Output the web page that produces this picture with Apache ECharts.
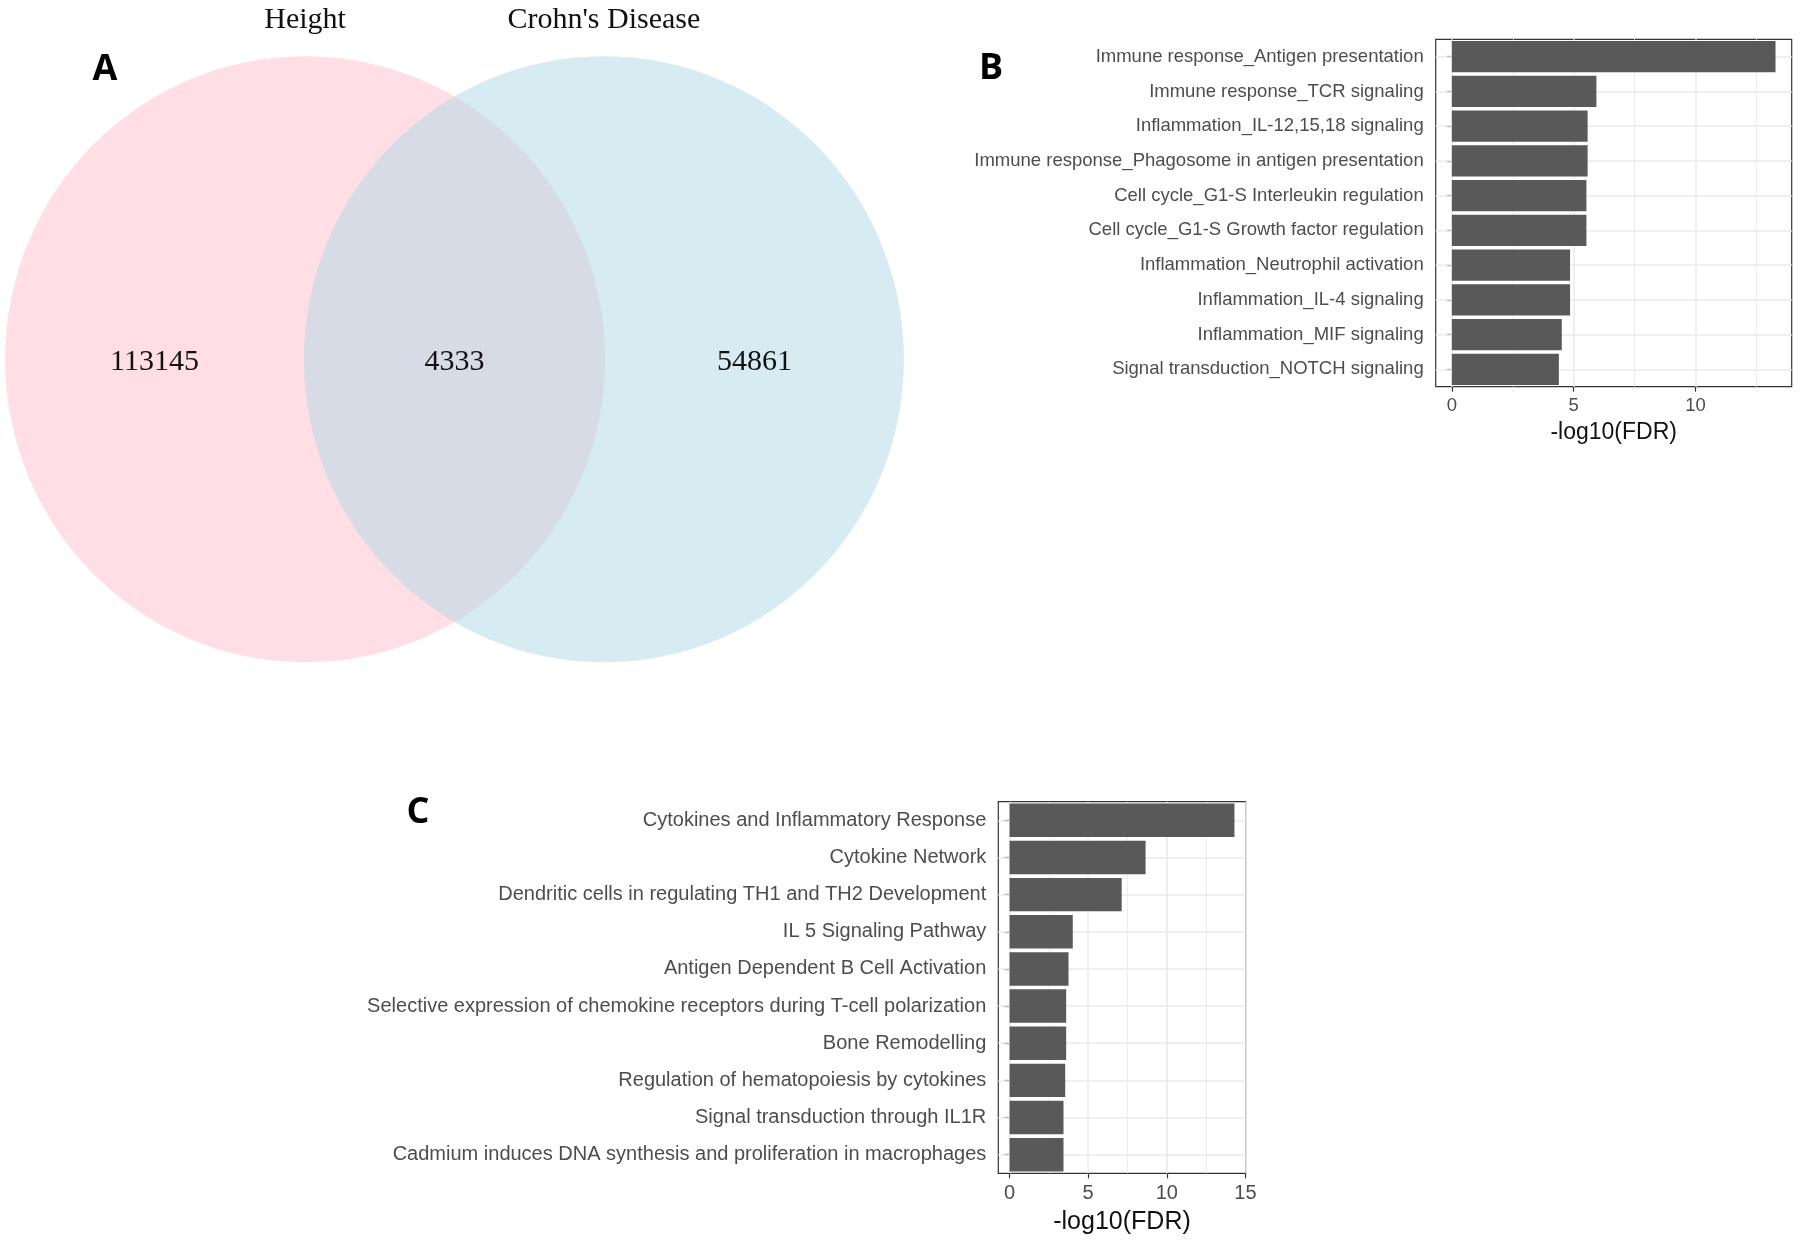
<!DOCTYPE html>
<html>
<head>
<meta charset="utf-8">
<script src="https://cdn.jsdelivr.net/npm/echarts@6/dist/echarts.min.js"></script>
<style>html,body{margin:0;padding:0;background:#fff}#c{width:1800px;height:1242px}</style>
</head>
<body>
<div id="c"></div>
<script>
// ---------- data ----------
const pathwaysB = [
  'Immune response_Antigen presentation',
  'Immune response_TCR signaling',
  'Inflammation_IL-12,15,18 signaling',
  'Immune response_Phagosome in antigen presentation',
  'Cell cycle_G1-S Interleukin regulation',
  'Cell cycle_G1-S Growth factor regulation',
  'Inflammation_Neutrophil activation',
  'Inflammation_IL-4 signaling',
  'Inflammation_MIF signaling',
  'Signal transduction_NOTCH signaling'
];
const fdrB = [13.28, 5.93, 5.57, 5.57, 5.52, 5.52, 4.85, 4.85, 4.51, 4.39];
const ticksB = [0, 5, 10];

const pathwaysC = [
  'Cytokines and Inflammatory Response',
  'Cytokine Network',
  'Dendritic cells in regulating TH1 and TH2 Development',
  'IL 5 Signaling Pathway',
  'Antigen Dependent B Cell Activation',
  'Selective expression of chemokine receptors during T-cell polarization',
  'Bone Remodelling',
  'Regulation of hematopoiesis by cytokines',
  'Signal transduction through IL1R',
  'Cadmium induces DNA synthesis and proliferation in macrophages'
];
const fdrC = [14.3, 8.65, 7.13, 4.02, 3.75, 3.60, 3.60, 3.54, 3.43, 3.43];
const ticksC = [0, 5, 10, 15];

const vennSets = ['Height', "Crohn's Disease"];
const vennCounts = [113145, 4333, 54861]; // Height only, both, Crohn's only
const xTitle = '-log10(FDR)';

// ---------- helpers ----------
const SANS = '"Liberation Sans", Arial, Helvetica, sans-serif';
const SERIF = '"Liberation Serif", "Times New Roman", serif';

function axisRange(vals) {
  const m = Math.max(...vals);
  return { min: -0.05 * m, max: 1.05 * m };
}
function gridLineData(names, ticks, range) {
  const out = [];
  const step = ticks[1] - ticks[0];
  ticks.forEach(t => {
    if (t >= range.min && t <= range.max) out.push({ xAxis: t, lineStyle: { width: 1.6 } });
    const m = t + step / 2;
    if (m >= range.min && m <= range.max) out.push({ xAxis: m, lineStyle: { width: 0.9 } });
  });
  names.forEach(n => out.push({ yAxis: n, lineStyle: { width: 1.6 } }));
  return out;
}

const rB = axisRange(fdrB);
const rC = axisRange(fdrC);

function valueAxis(gridIndex, range, ticks, fs, tfs, gap) {
  return {
    type: 'value', gridIndex, min: range.min, max: range.max,
    axisLine: { show: false },
    splitLine: { show: false },
    axisTick: { show: true, customValues: ticks, length: 5, lineStyle: { color: '#333', width: 1.2 } },
    axisLabel: { customValues: ticks, fontSize: fs, color: '#4D4D4D', fontFamily: SANS, margin: 10 },
    name: xTitle, nameLocation: 'middle', nameGap: gap,
    nameTextStyle: { fontSize: tfs, color: '#111', fontFamily: SANS }
  };
}
function catAxis(gridIndex, names, fs) {
  return {
    type: 'category', gridIndex, data: names, inverse: true,
    axisLine: { show: false },
    splitLine: { show: false },
    axisTick: { show: true, alignWithLabel: true, length: 5, lineStyle: { color: '#333', width: 1.2 } },
    axisLabel: { fontSize: fs, color: '#4D4D4D', fontFamily: SANS, margin: 12 }
  };
}

// Venn layout (units of circle radius)
const vennHalfGap = 0.498;
const vennCenters = [-vennHalfGap, vennHalfGap];
const vennColors = ['rgba(255,192,203,0.5)', 'rgba(173,216,230,0.5)'];
const regionX = [
  ((vennCenters[0] - 1) + (vennCenters[1] - 1)) / 2,
  (vennCenters[0] + vennCenters[1]) / 2,
  ((vennCenters[0] + 1) + (vennCenters[1] + 1)) / 2
];

const LETTER_FONT = 'bold 36px "Open Sans", "Liberation Sans", sans-serif';

const chart = echarts.init(document.getElementById('c'), null, { renderer: 'canvas' });
chart.setOption({
  animation: false,
  backgroundColor: '#fff',
  grid: [
    { left: 1435.7, top: 39.3, width: 356, height: 347.4, show: true, borderColor: '#333', borderWidth: 1.2, backgroundColor: '#fff', containLabel: false, outerBoundsMode: 'none' },
    { left: 998.3, top: 801.7, width: 247.4, height: 371.6, show: true, borderColor: '#333', borderWidth: 1.2, backgroundColor: '#fff', containLabel: false, outerBoundsMode: 'none' },
    { left: 4.5, top: 10.85, width: 900, height: 696.9, show: false, containLabel: false, outerBoundsMode: 'none' }
  ],
  xAxis: [
    valueAxis(0, rB, ticksB, 18.5, 23, 34),
    valueAxis(1, rC, ticksC, 20, 25, 36),
    { type: 'value', gridIndex: 2, min: -1.5, max: 1.5, show: false }
  ],
  yAxis: [
    catAxis(0, pathwaysB, 18.5),
    catAxis(1, pathwaysC, 20),
    { type: 'value', gridIndex: 2, min: -1.15, max: 1.15, show: false }
  ],
  graphic: [
    { type: 'text', x: 105, y: 69.5, style: { text: 'A', font: LETTER_FONT, fill: '#000', textAlign: 'center', textVerticalAlign: 'middle' } },
    { type: 'text', x: 991, y: 68.5, style: { text: 'B', font: LETTER_FONT, fill: '#000', textAlign: 'center', textVerticalAlign: 'middle' } },
    { type: 'text', x: 418, y: 812.5, style: { text: 'C', font: LETTER_FONT, fill: '#000', textAlign: 'center', textVerticalAlign: 'middle' } }
  ],
  series: [
    { type: 'scatter', xAxisIndex: 0, yAxisIndex: 0, data: [], silent: true,
      markLine: { silent: true, z: 1, symbol: ['none', 'none'], animation: false, label: { show: false },
        lineStyle: { color: '#EBEBEB', type: 'solid' }, emphasis: { disabled: true },
        data: gridLineData(pathwaysB, ticksB, rB) } },
    { type: 'bar', xAxisIndex: 0, yAxisIndex: 0, data: fdrB, z: 3, barCategoryGap: '10%',
      itemStyle: { color: '#595959' }, silent: true },
    { type: 'scatter', xAxisIndex: 1, yAxisIndex: 1, data: [], silent: true,
      markLine: { silent: true, z: 1, symbol: ['none', 'none'], animation: false, label: { show: false },
        lineStyle: { color: '#EBEBEB', type: 'solid' }, emphasis: { disabled: true },
        data: gridLineData(pathwaysC, ticksC, rC) } },
    { type: 'bar', xAxisIndex: 1, yAxisIndex: 1, data: fdrC, z: 3, barCategoryGap: '10%',
      itemStyle: { color: '#595959' }, silent: true },
    { type: 'custom', xAxisIndex: 2, yAxisIndex: 2, silent: true, clip: false,
      data: vennCenters.map((cx, i) => [cx, 0, i]),
      renderItem: function (params, api) {
        const i = api.value(2);
        const c = api.coord([api.value(0), api.value(1)]);
        const s = api.size([1, 1]);
        const t = api.coord([api.value(0), 1.118]);
        return { type: 'group', children: [
          { type: 'ellipse', shape: { cx: c[0], cy: c[1], rx: s[0], ry: s[1] }, style: { fill: vennColors[i] } },
          { type: 'text', style: { text: vennSets[i], x: c[0], y: t[1], font: '30px ' + SERIF, fill: '#111',
              textAlign: 'center', textVerticalAlign: 'middle', align: 'center', verticalAlign: 'middle' } }
        ] };
      } },
    { type: 'custom', xAxisIndex: 2, yAxisIndex: 2, silent: true, clip: false, z: 5,
      data: vennCounts.map((v, i) => [regionX[i], -0.008, v]),
      renderItem: function (params, api) {
        const c = api.coord([api.value(0), api.value(1)]);
        return { type: 'text', style: { text: String(api.value(2)), x: c[0], y: c[1], font: '30px ' + SERIF, fill: '#111',
            textAlign: 'center', textVerticalAlign: 'middle', align: 'center', verticalAlign: 'middle' } };
      } }
  ]
});
</script>
</body>
</html>
